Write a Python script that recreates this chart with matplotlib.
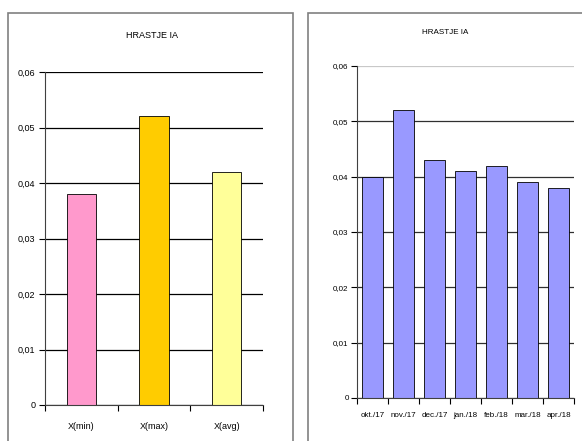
import numpy as np
import matplotlib.pyplot as plt
from matplotlib.patches import Rectangle
from matplotlib.ticker import FixedLocator, FuncFormatter

plt.rcParams['font.family'] = ['Liberation Sans', 'DejaVu Sans']

title = "HRASTJE IA"
stat_labels = ["X(min)", "X(max)", "X(avg)"]
stat_values = [0.038, 0.052, 0.042]
stat_colors = ["#FF99CC", "#FFCC00", "#FFFF99"]

month_labels = ["okt./17", "nov./17", "dec./17", "jan./18", "feb./18", "mar./18", "apr./18"]
month_values = [0.040, 0.052, 0.043, 0.041, 0.042, 0.039, 0.038]
month_color = "#9999FF"

y_ticks = [0, 0.01, 0.02, 0.03, 0.04, 0.05, 0.06]

W, H = 582, 441


def comma(v, pos):
    if abs(v) < 1e-12:
        return "0"
    return ("%.2f" % v).replace(".", ",")


def style(ax, n, labels, fs, xpad):
    ax.set_xlim(-0.5, n - 0.5)
    ax.set_ylim(0, 0.06)
    ax.set_yticks(y_ticks)
    ax.yaxis.set_major_formatter(FuncFormatter(comma))
    ax.set_xticks(range(n))
    ax.set_xticklabels(labels)
    ax.xaxis.set_minor_locator(FixedLocator(np.arange(-0.5, n, 1.0)))
    ax.tick_params(axis='x', which='major', length=0, pad=xpad, labelsize=fs)
    ax.tick_params(axis='x', which='minor', length=4, width=0.8, direction='out')
    ax.tick_params(axis='y', length=4, width=0.8, direction='out', labelsize=fs, pad=3)
    for s in ['top', 'right']:
        ax.spines[s].set_visible(False)
    for s in ['left', 'bottom']:
        ax.spines[s].set_linewidth(0.8)
        ax.spines[s].set_color('#404040')
    ax.yaxis.grid(True, color='black', linewidth=0.9)
    ax.set_axisbelow(True)


fig = plt.figure(figsize=(W / 100, H / 100), dpi=100)

# frames around each chart
fig.patches.append(Rectangle((8 / W, -0.05), (293 - 8) / W, 1.05 - 13 / H,
                             transform=fig.transFigure, fill=False,
                             edgecolor='#808080', linewidth=1.2))
fig.patches.append(Rectangle((308 / W, -0.05), (600 - 308) / W, 1.05 - 13 / H,
                             transform=fig.transFigure, fill=False,
                             edgecolor='#808080', linewidth=1.2))

ax1 = fig.add_axes([45 / W, 1 - 405 / H, (263 - 45) / W, (405 - 72) / H])
ax1.bar(range(len(stat_values)), stat_values, width=0.4, color=stat_colors,
        edgecolor='black', linewidth=0.6)
style(ax1, len(stat_labels), stat_labels, 6.5, 12)
fig.text(152 / W, 1 - 35 / H, title, ha='center', va='center', fontsize=6.5)

ax2 = fig.add_axes([357 / W, 1 - 398 / H, (574 - 357) / W, (398 - 66) / H])
ax2.bar(range(len(month_values)), month_values, width=0.66, color=month_color,
        edgecolor='black', linewidth=0.6)
style(ax2, len(month_labels), month_labels, 5.8, 10)
ax2.tick_params(axis='y', pad=2)
ax2.get_ygridlines()[-1].set_color('#c8c8c8')
for gl in ax2.get_ygridlines()[:-1]:
    gl.set_color('#303030')
fig.text(445 / W, 1 - 33 / H, title, ha='center', va='center', fontsize=5.8)

fig.savefig("out.png", dpi=100)
